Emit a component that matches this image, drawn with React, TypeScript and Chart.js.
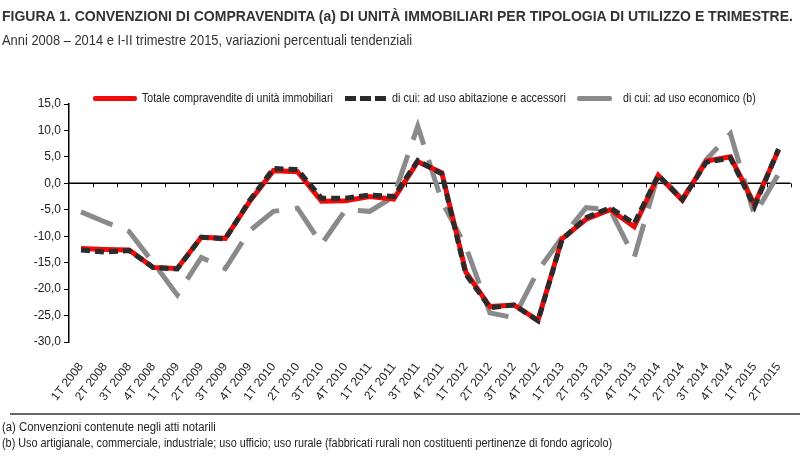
import React, { useEffect, useLayoutEffect, useRef, useState } from "react";
import { Chart, registerables } from "chart.js";

Chart.register(...registerables);

const categories = [
  "1T 2008", "2T 2008", "3T 2008", "4T 2008",
  "1T 2009", "2T 2009", "3T 2009", "4T 2009",
  "1T 2010", "2T 2010", "3T 2010", "4T 2010",
  "1T 2011", "2T 2011", "3T 2011", "4T 2011",
  "1T 2012", "2T 2012", "3T 2012", "4T 2012",
  "1T 2013", "2T 2013", "3T 2013", "4T 2013",
  "1T 2014", "2T 2014", "3T 2014", "4T 2014",
  "1T 2015", "2T 2015",
];

const totale = [
  -12.3, -12.5, -12.6, -15.9, -16.1, -10.2, -10.4, -3.5, 2.4, 2.2,
  -3.4, -3.3, -2.5, -3.0, 4.1, 2.0, -16.8, -23.3, -23.0, -25.9,
  -10.5, -6.8, -5.0, -8.2, 1.5, -3.2, 4.2, 5.0, -4.0, 6.3,
];

const abitazione = [
  -12.6, -13.0, -12.7, -15.9, -16.2, -10.2, -10.5, -3.3, 2.8, 2.6,
  -2.8, -2.8, -2.2, -2.5, 4.3, 1.8, -17.2, -23.5, -23.0, -26.0,
  -10.6, -6.5, -4.6, -7.6, 1.5, -3.1, 4.0, 4.8, -4.4, 6.5,
];

const economico = [
  -5.4, -7.3, -9.1, -15.0, -21.1, -14.0, -16.1, -9.0, -5.3, -4.7,
  -11.5, -5.0, -5.3, -2.5, 10.8, -3.4, -12.0, -24.5, -25.4, -16.5,
  -10.2, -4.6, -5.0, -14.0, 1.8, -3.0, 4.5, 9.4, -6.0, 1.8,
];

const seriesNames = [
  "Totale compravendite di unità immobiliari",
  "di cui: ad uso abitazione e accessori",
  "di cui: ad uso economico (b)",
];

const yMin = -30;
const yMax = 15;
const yStep = 5;

const TITLE =
  "FIGURA 1. CONVENZIONI DI COMPRAVENDITA (a) DI UNITÀ IMMOBILIARI PER TIPOLOGIA DI UTILIZZO E TRIMESTRE.";
const SUBTITLE =
  "Anni 2008 – 2014 e I-II trimestre 2015, variazioni percentuali tendenziali";
const NOTE_A = "(a) Convenzioni contenute negli atti notarili";
const NOTE_B =
  "(b) Uso artigianale, commerciale, industriale; uso ufficio; uso rurale (fabbricati rurali non costituenti pertinenze di fondo agricolo)";

const FONT = '"Liberation Sans", Arial, sans-serif';

const RED = "#f00a0a";
const DARK = "#2b2b2b";
const GREY = "#8a8a8a";

const zeroLinePlugin = {
  id: "zeroLine",
  beforeDatasetsDraw(chart: any) {
    const { ctx, chartArea, scales } = chart;
    const y0 = scales.y.getPixelForValue(0);
    const n = chart.data.labels.length;
    const step = (chartArea.right - chartArea.left) / n;
    ctx.save();
    ctx.strokeStyle = "#000";
    ctx.lineWidth = 1.5;
    ctx.beginPath();
    ctx.moveTo(chartArea.left, y0);
    ctx.lineTo(chartArea.right, y0);
    ctx.stroke();
    ctx.lineWidth = 1;
    ctx.beginPath();
    for (let k = 1; k <= n; k++) {
      const x = Math.round(chartArea.left + k * step) + 0.5;
      ctx.moveTo(x, y0);
      ctx.lineTo(x, y0 + 4);
    }
    ctx.stroke();
    ctx.restore();
  },
};

function FitText({
  text,
  width,
  style,
}: {
  text: string;
  width: number;
  style: React.CSSProperties;
}) {
  const ref = useRef<HTMLSpanElement>(null);
  const [sx, setSx] = useState(1);
  useLayoutEffect(() => {
    if (ref.current) {
      const w = ref.current.offsetWidth;
      if (w) setSx(width / w);
    }
  }, [text, width]);
  return (
    <span
      ref={ref}
      style={{
        ...style,
        position: "absolute",
        display: "inline-block",
        whiteSpace: "nowrap",
        transform: `scaleX(${sx})`,
        transformOrigin: "left center",
      }}
    >
      {text}
    </span>
  );
}

export default function App() {
  const ref = useRef<HTMLCanvasElement>(null);

  useEffect(() => {
    if (!ref.current) return;
    const chart = new Chart(ref.current, {
      type: "line",
      data: {
        labels: categories,
        datasets: [
          {
            label: seriesNames[0],
            data: totale,
            borderColor: RED,
            backgroundColor: RED,
            borderWidth: 5,
            pointRadius: 0,
            tension: 0,
            order: 2,
          },
          {
            label: seriesNames[1],
            data: abitazione,
            borderColor: DARK,
            backgroundColor: DARK,
            borderWidth: 5,
            borderDash: [9, 5],
            pointRadius: 0,
            tension: 0,
            order: 1,
          },
          {
            label: seriesNames[2],
            data: economico,
            borderColor: GREY,
            backgroundColor: GREY,
            borderWidth: 5,
            borderDash: [34, 16],
            pointRadius: 0,
            tension: 0,
            order: 3,
          },
        ],
      },
      options: {
        responsive: false,
        animation: false,
        layout: { padding: { left: 0, top: 104, right: 7, bottom: 54 } },
        plugins: {
          legend: { display: false },
          title: { display: false },
          tooltip: { enabled: false },
        },
        scales: {
          x: {
            offset: true,
            grid: { display: false },
            border: { display: false },
            ticks: {
              autoSkip: false,
              maxRotation: 52,
              minRotation: 52,
              color: "#222",
              padding: 10,
              font: { family: FONT, size: 12 },
            },
            afterFit(scale: any) {
              scale.height = 70;
            },
          },
          y: {
            min: yMin,
            max: yMax,
            ticks: {
              stepSize: yStep,
              color: "#222",
              padding: 3,
              font: { family: FONT, size: 12 },
              callback: (v: any) => Number(v).toFixed(1).replace(".", ","),
            },
            grid: {
              drawOnChartArea: false,
              drawTicks: true,
              tickLength: 5,
              color: "#000",
            },
            border: { display: true, color: "#000", width: 1.5 },
            afterFit(scale: any) {
              scale.width = 69;
            },
          },
        },
      },
      plugins: [zeroLinePlugin],
    });
    return () => chart.destroy();
  }, []);

  const legendText: React.CSSProperties = {
    top: 90,
    fontFamily: FONT,
    fontSize: 13,
    color: "#222",
    lineHeight: "16px",
  };

  const noteText: React.CSSProperties = {
    left: 2,
    fontFamily: FONT,
    fontSize: 12,
    color: "#222",
    lineHeight: "16px",
  };

  return (
    <div
      style={{
        position: "absolute",
        left: 0,
        top: 0,
        width: 800,
        height: 466,
        background: "#fff",
        overflow: "hidden",
      }}
    >
      <canvas
        ref={ref}
        width={800}
        height={466}
        style={{ position: "absolute", left: 0, top: 0 }}
      />
      <FitText
        text={TITLE}
        width={791}
        style={{
          left: 2,
          top: 6,
          fontFamily: FONT,
          fontWeight: "bold",
          fontSize: 15,
          color: "#333",
          lineHeight: "20px",
        }}
      />
      <FitText
        text={SUBTITLE}
        width={410}
        style={{
          left: 2,
          top: 31,
          fontFamily: FONT,
          fontSize: 14,
          color: "#333",
          lineHeight: "18px",
        }}
      />

      {/* legend */}
      <div
        style={{
          position: "absolute",
          left: 93,
          top: 96,
          width: 44,
          height: 5,
          background: RED,
          borderRadius: 2,
        }}
      />
      <FitText text={seriesNames[0]} width={191} style={{ ...legendText, left: 142 }} />
      <div
        style={{
          position: "absolute",
          left: 345,
          top: 96,
          width: 43,
          height: 5,
          background: `repeating-linear-gradient(to right, ${DARK} 0 11px, transparent 11px 15px)`,
        }}
      />
      <FitText text={seriesNames[1]} width={174} style={{ ...legendText, left: 392 }} />
      <div
        style={{
          position: "absolute",
          left: 577,
          top: 96,
          width: 35,
          height: 5,
          background: GREY,
          borderRadius: 2,
        }}
      />
      <FitText text={seriesNames[2]} width={133} style={{ ...legendText, left: 623 }} />

      {/* footnotes */}
      <div
        style={{
          position: "absolute",
          left: 10,
          top: 413,
          width: 790,
          height: 2,
          background: "#666",
        }}
      />
      <FitText text={NOTE_A} width={214} style={{ ...noteText, top: 419 }} />
      <FitText text={NOTE_B} width={610} style={{ ...noteText, top: 435 }} />
    </div>
  );
}
